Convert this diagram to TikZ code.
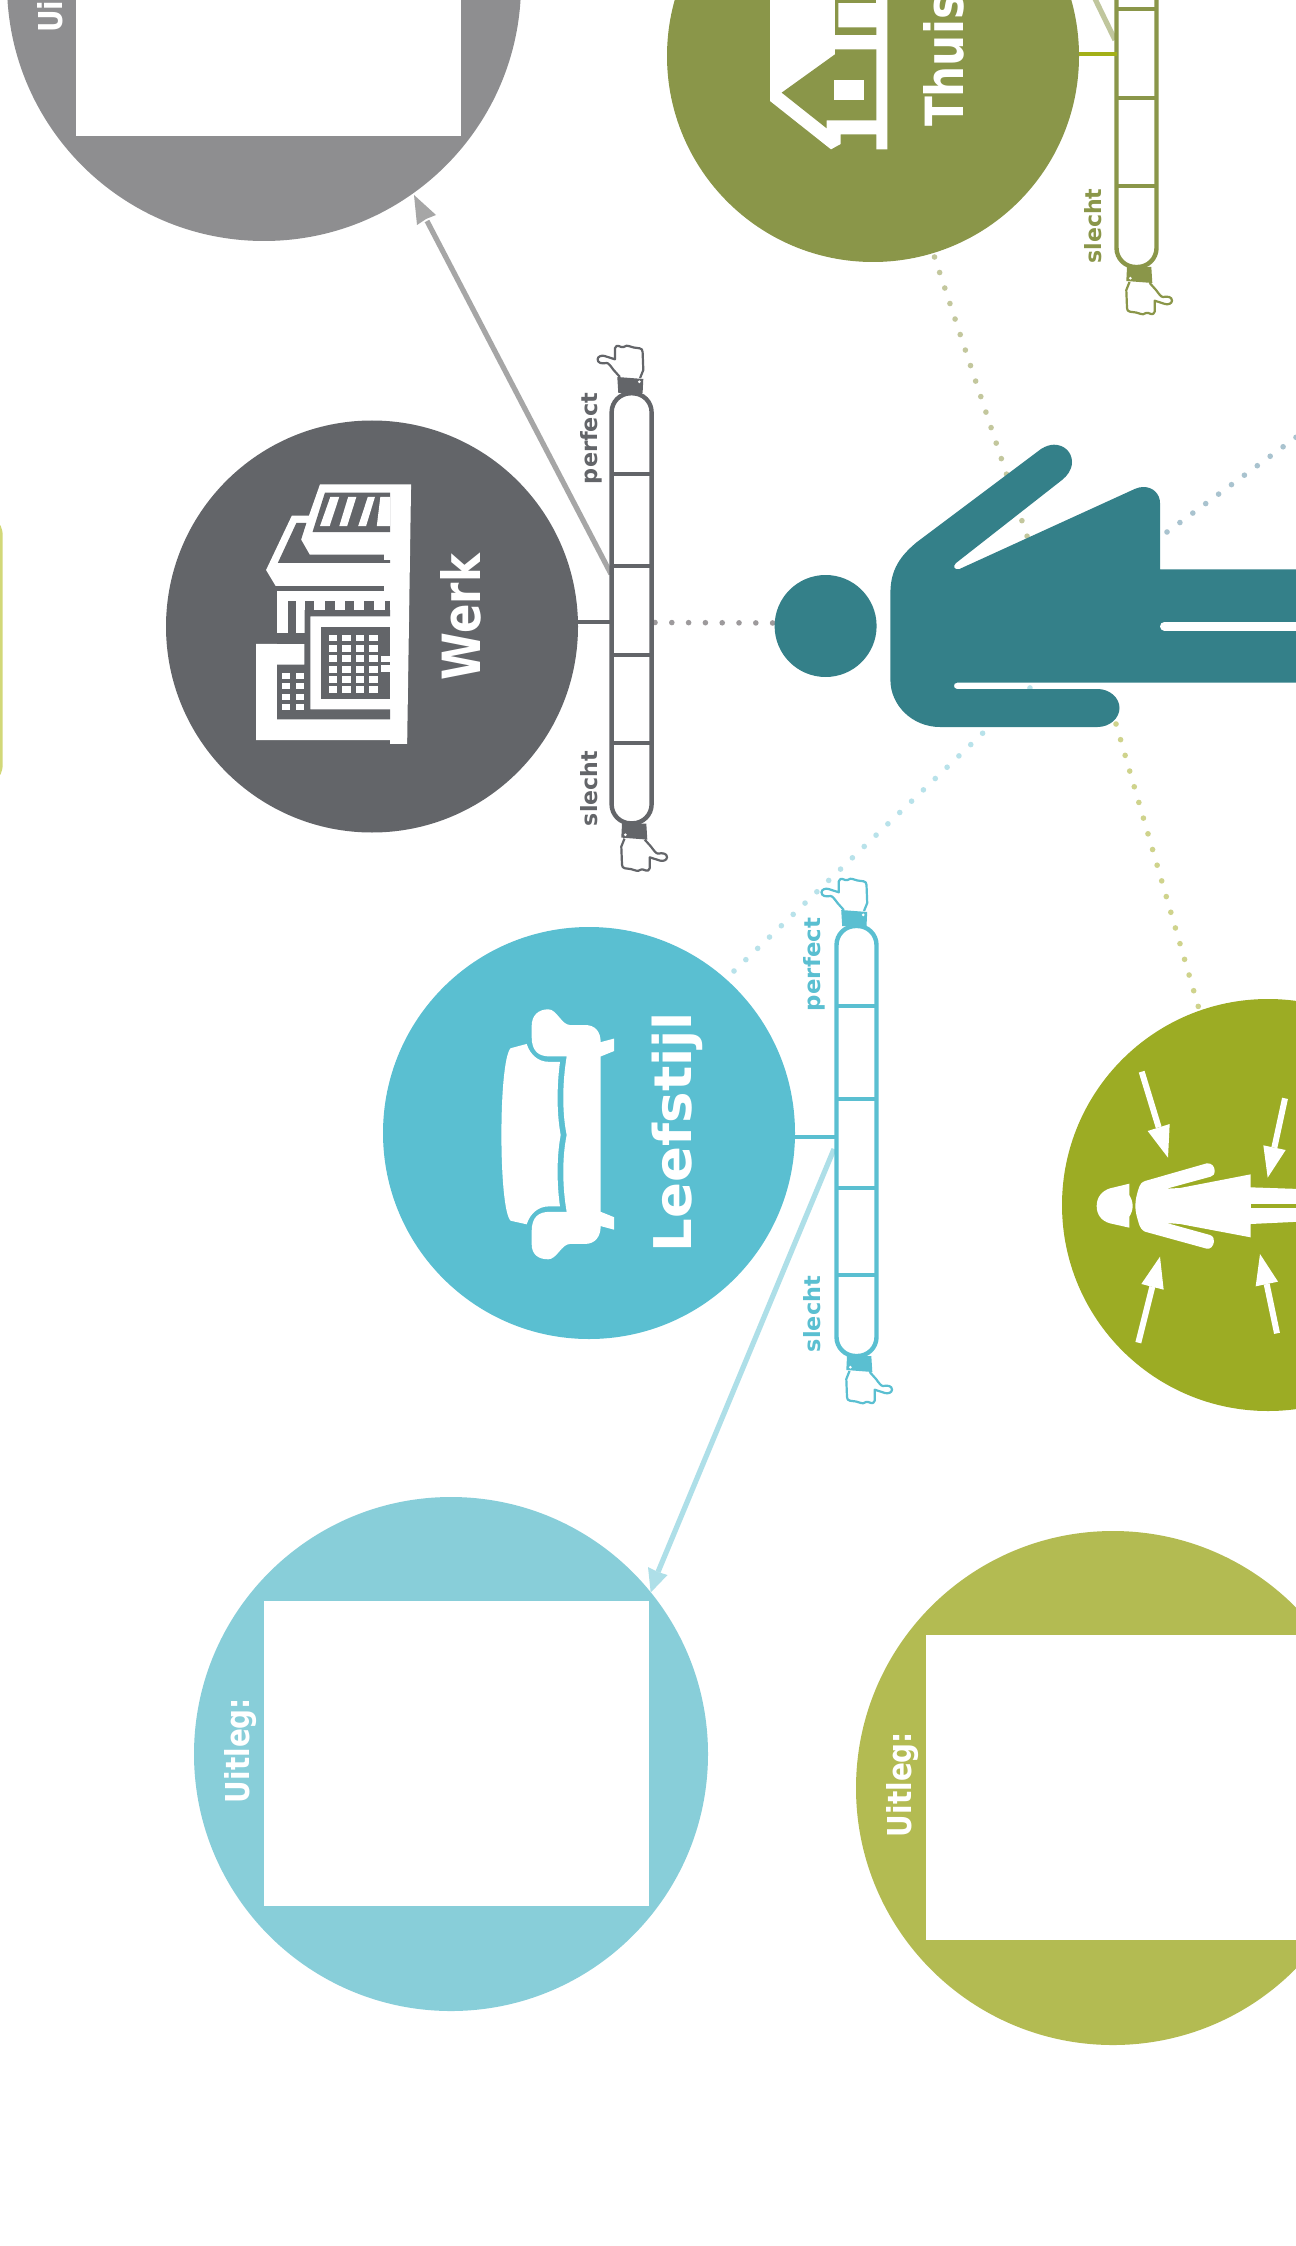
\documentclass[tikz,border=0pt]{standalone}
\usepackage{graphicx}
\usepackage{fontspec}
\newfontfamily\labf{DejaVu Sans Bold}
\definecolor{cWerk}{HTML}{636569}
\definecolor{cLeef}{HTML}{5ABFD1}
\definecolor{cThuis}{HTML}{8A9649}
\definecolor{cStress}{HTML}{9CAC24}
\definecolor{cGrey}{HTML}{8E8E90}
\definecolor{cTeal}{HTML}{88CED9}
\definecolor{cOlive}{HTML}{B3BB52}
\definecolor{cPerson}{HTML}{348089}
\definecolor{lGrey}{HTML}{A6A6A6}
\definecolor{lBlue}{HTML}{AEDFE8}
\definecolor{lOlive}{HTML}{C0C69D}
\definecolor{lLink}{HTML}{A3B018}
\definecolor{dGrey}{HTML}{9D9A9C}
\definecolor{dOlive}{HTML}{C3C79D}
\definecolor{dSlate}{HTML}{A9C3CF}
\definecolor{dBlue}{HTML}{B8E2EA}
\definecolor{dGreen}{HTML}{CFD38C}
\definecolor{cSliver}{HTML}{D2D878}
\tikzset{
  bigdisc/.style={circle,fill=#1,inner sep=0pt,outer sep=0pt,minimum size=257pt},
  meddisc/.style={circle,fill=#1,inner sep=0pt,outer sep=0pt,minimum size=206pt},
  gauge/.style={draw=#1,fill=white,line width=2.2pt,rounded corners=9.5pt,inner sep=0pt,outer sep=0pt,minimum width=20pt,minimum height=215pt},
  rung/.style={draw=#1,line width=2pt},
  link/.style={line width=2.1pt,draw=#1},
  leader/.style={line width=2.6pt,draw=#1},
  dots/.style={draw=#1,line width=2.8pt,line cap=round,dash pattern=on 0pt off 8.17pt},
  lab/.style={rotate=90,anchor=base west,inner sep=0pt,outer sep=0pt,text=#1},
}
\newcommand{\txt}[3]{\resizebox{#1}{#2}{\labf #3}}
% hand with cuff; origin at the end of the gauge, pointing up
\newcommand{\handicon}[1]{%
  \draw[fill=white,draw=#1,line width=1.1pt,line join=round]
    (-11.7,-16) -- (-18,-23) .. controls (-21,-27) and (-23,-30) .. (-25,-30)
    .. controls (-30,-29) and (-34,-30) .. (-34,-33.7)
    .. controls (-34,-36.5) and (-30,-38) .. (-27,-37) -- (-16.7,-33.7)
    -- (-16.7,-44.7) .. controls (-16.5,-47) and (-14,-47.5) .. (-13,-47)
    .. controls (-11,-46) and (-9,-45.5) .. (-8,-46)
    .. controls (-6,-47.5) and (-4,-47.5) .. (-3,-47)
    .. controls (-1,-45.5) and (0,-45.5) .. (2,-45.5)
    -- (8,-44.7) .. controls (10,-44.5) and (11,-43) .. (11,-41)
    -- (11.7,-23) -- (8.5,-15);
  \fill[#1] (-14.3,-16) -- (11.7,-14) -- (11,0) -- (-13.3,0) -- cycle;
  \fill[white] (7.7,-11.2) circle (1.5);
}
\begin{document}
\begin{tikzpicture}[x=0.5pt,y=-0.5pt]
\useasboundingbox (0,0) rectangle (1295,2246);
\fill[white] (0,0) rectangle (1295,2246);

% sliver on the left edge
\fill[cSliver] (-5,522) .. controls (0,522) and (2.7,528) .. (2.7,536) -- (2.7,764)
  .. controls (2.7,772) and (0,778) .. (-5,778) -- cycle;

% dotted lines to the person
\coordinate (dW) at (655,622.5);  \coordinate (pHead) at (778,623);
\coordinate (dT) at (934.5,257);  \coordinate (pT) at (1028,539);
\coordinate (dS) at (1167,532);   \coordinate (pS) at (1310,427);
\coordinate (dL) at (734,971);    \coordinate (pL) at (1032,686);
\coordinate (dG) at (1116,724);   \coordinate (pG) at (1199,1009);
\draw[dots=dGrey,dash pattern=on 0pt off 8.4pt] (dW) -- (pHead);
\draw[dots=dOlive] (dT) -- (pT);
\draw[dots=dSlate,dash pattern=on 0pt off 8pt] (dS) -- (pS);
\draw[dots=dBlue,dash pattern=on 0pt off 8.19pt] (dL) -- (pL);
\draw[dots=dGreen] (dG) -- (pG);

% large explanation discs
\node[bigdisc=cGrey] (uGrey) at (264,-16) {};
\node[bigdisc=cTeal] (uTeal) at (451,1754) {};
\node[bigdisc=cOlive] (uOlive) at (1113,1788) {};
\fill[white] (76,-170) rectangle (461,136);
\fill[white] (264,1601) rectangle (649,1906);
\fill[white] (926,1635) rectangle (1311,1940);
\node[lab=white] (tGrey) at (62,33) {\txt{52.5pt}{12.5pt}{Uitleg:}};
\node[lab=white] (tTeal) at (249,1803) {\txt{52.5pt}{12.5pt}{Uitleg:}};
\node[lab=white] (tOlive) at (911,1837) {\txt{52.5pt}{12.5pt}{Uitleg:}};

% medium discs
\node[meddisc=cWerk] (werk) at (372,626.5) {};
\node[meddisc=cLeef] (leef) at (589,1133) {};
\node[meddisc=cThuis] (thuis) at (873,56) {};
\node[meddisc=cStress] (stress) at (1268,1205) {};

% leaders from the gauges
\coordinate (gWl) at (611,574);  \coordinate (aWb) at (427,221);
\coordinate (gLl) at (834,1149); \coordinate (aLb) at (658,1572);
\coordinate (gTl) at (1115,40);  \coordinate (gTe) at (1080,-32);
\draw[leader=lGrey] (gWl) -- (aWb);
\draw[leader=lBlue] (gLl) -- (aLb);
\draw[leader=lOlive] (gTl) -- (gTe);
\fill[lGrey] (414,195) -- (436,215) -- (426,219) -- (417,225) -- cycle;
\fill[lBlue] (650.7,1592.5) -- (648,1567) -- (658,1572) -- (667.5,1575) -- cycle;

% gauges: Werk
\begin{scope}[shift={(631.6,393)}]\handicon{cWerk}\end{scope}
\begin{scope}[shift={(633,823.6)},rotate=180]\handicon{cWerk}\end{scope}
\node[gauge=cWerk] (barW) at (631.6,608.3) {};
\foreach \y in {474,566,655,742.5} \draw[rung=cWerk] (barW.west |- 0,\y) -- (barW.east |- 0,\y);
\coordinate (cW) at (600,622);
\draw[link=cWerk] (werk.east |- cW) -- (barW.west |- cW);
\node[lab=cWerk] (pW) at (597,484) {\txt{45.5pt}{8.5pt}{perfect}};
\node[lab=cWerk] (sW) at (597,826) {\txt{37.5pt}{8.5pt}{slecht}};

% gauges: Leefstijl
\begin{scope}[shift={(855.5,926)}]\handicon{cLeef}\end{scope}
\begin{scope}[shift={(858,1356)},rotate=180]\handicon{cLeef}\end{scope}
\node[gauge=cLeef] (barL) at (856.5,1141) {};
\foreach \y in {1006,1098.6,1187.5,1275} \draw[rung=cLeef] (barL.west |- 0,\y) -- (barL.east |- 0,\y);
\coordinate (cL) at (810,1137);
\draw[link=cLeef] (leef.east |- cL) -- (barL.west |- cL);
\node[lab=cLeef] (pL2) at (820,1011) {\txt{46.5pt}{8.5pt}{perfect}};
\node[lab=cLeef] (sL) at (820,1352) {\txt{38pt}{8.5pt}{slecht}};

% gauges: Thuis
\begin{scope}[shift={(1138,267)},rotate=180]\handicon{cThuis}\end{scope}
\node[gauge=cThuis] (barT) at (1136.5,52) {};
\foreach \y in {9,98,186} \draw[rung=cThuis] (barT.west |- 0,\y) -- (barT.east |- 0,\y);
\coordinate (cT) at (1095,54);
\draw[link=lLink] (thuis.east |- cT) -- (barT.west |- cT);
\node[lab=cThuis] (sT) at (1101,263.5) {\txt{37.5pt}{8.5pt}{slecht}};

% disc titles
\node[lab=white] (tWerk) at (480,680) {\txt{63pt}{20pt}{Werk}};
\node[lab=white] (tLeef) at (691,1252) {\txt{120pt}{19.75pt}{Leefstijl}};
\node[lab=white] (tThuis) at (963,127) {\txt{66.5pt}{20pt}{Thuis}};

% person
\fill[cPerson] (825.6,626) circle (51);
\fill[cPerson] (917,542) -- (1041,449) .. controls (1046,446) and (1050,444.7) .. (1054,444.7)
  .. controls (1064,444.7) and (1072,452) .. (1072,462) .. controls (1072,470) and (1067,476) .. (1062,480)
  -- (956,563) .. controls (952.5,566) and (954,570.5) .. (959.5,569)
  -- (1134.7,489) .. controls (1138,487.5) and (1141,487) .. (1143.6,487)
  .. controls (1153,487) and (1160,494) .. (1160,503) -- (1160,569.3) -- (1310,569.3) -- (1310,682.7)
  -- (957,682.7) .. controls (953,682.7) and (953,689) .. (957,689) -- (1097.5,689)
  .. controls (1110,689) and (1119.5,698) .. (1119.5,708) .. controls (1119.5,718) and (1110,727) .. (1097.5,727)
  -- (940,727) .. controls (912,727) and (890.4,705) .. (890.4,680) -- (890.4,593)
  .. controls (890.4,570) and (900,556) .. (917,542) -- cycle;
\draw[white,line width=4.5pt,line cap=round] (1164.5,626.2) -- (1320,626.2);

% icon: office building
\begin{scope}[shift={(150,320)},scale=0.35714]
\fill[white] (476,460) -- (731,460) -- (720,1187) -- (672,1187) -- (672,1176) -- (297,1176) -- (297,907) -- (356,907)
  -- (356,745) -- (352,745) -- (325,700) -- (397,548) -- (445,548) -- cycle;
\fill[cWerk] (490,483) -- (672,483) -- (672,594) -- (455,594) -- cycle;
\fill[white] (505,495) -- (530,495) -- (503,577) -- (476,577) -- cycle;
\fill[white] (555,495) -- (578,495) -- (552,577) -- (530,577) -- cycle;
\fill[white] (610,495) -- (630,495) -- (605,577) -- (583,577) -- cycle;
\fill[white] (645,495) -- (672,495) -- (672,577) -- (635,577) -- cycle;
\fill[cWerk] (410,568) -- (438,568) -- (423,615) -- (447,657) -- (655,657) -- (655,672) -- (672,672) -- (672,680) -- (358,680) -- cycle;
\fill[cWerk] (350,745) rectangle (656,758);
\fill[cWerk] (385,787) rectangle (408,877);
\foreach \a/\b in {433/460,490/517,545/572,600/628,657/672} \fill[cWerk] (\a,787) rectangle (\b,812);
\fill[cWerk] (356,877) -- (433,877) -- (433,812) -- (672,812) -- (672,830) -- (449,830) -- (449,1090) -- (672,1090) -- (672,1118)
  -- (356,1118) -- (356,965) -- (432,965) -- (432,907) -- (356,907) -- cycle;
\fill[cWerk] (479,860) rectangle (672,1062);
\foreach \yy/\yb in {882/900,910/930,938/958,968/987,997/1016,1026/1043}
  \foreach \xx/\xb in {500/524,538/562,576/600,614/638} \fill[white] (\xx,\yy) rectangle (\xb,\yb);
\fill[white] (648,940) rectangle (672,958);
\fill[white] (648,965) rectangle (672,985);
\foreach \yy/\yb in {988/1005,1017/1034,1046/1063,1074/1092}
  \foreach \xx/\xb in {370/393,408/432} \fill[white] (\xx,\yy) rectangle (\xb,\yb);
\end{scope}

% icon: house
\begin{scope}[shift={(730,0)},scale=0.33333]
\fill[white] (120,-10) -- (120,303) -- (303,448) -- (332,432) -- (332,403) -- (439,403) -- (439,448) -- (472,448) -- (472,-10) -- cycle;
\fill[cThuis] (155,278) -- (315,163) -- (315,148) -- (439,148) -- (439,361) -- (290,361) -- (290,385) -- cycle;
\fill[white] (313,240) rectangle (401,300);
\fill[cThuis] (315,-10) -- (325,-10) -- (325,82) -- (439,82) -- (439,105) -- (315,105) -- cycle;
\fill[cThuis] (325,-10) rectangle (439,10);
\end{scope}

% icon: sofa
\begin{scope}[shift={(470,860)},xscale=0.33333,yscale=0.35714]
\fill[white] (122,527) -- (170,515) .. controls (180,545) and (205,565) .. (235,565) -- (270,565)
  .. controls (262,620) and (258,700) .. (272,770) .. controls (258,840) and (262,920) .. (270,970)
  -- (235,970) .. controls (205,970) and (180,990) .. (170,1020) -- (122,1010)
  .. controls (85,980) and (85,560) .. (122,527) -- cycle;
\fill[white] (290,550) .. controls (278,620) and (275,700) .. (290,770) .. controls (275,840) and (278,920) .. (290,985)
  -- (240,985) .. controls (205,985) and (185,1000) .. (185,1040) -- (185,1075)
  .. controls (185,1105) and (205,1118) .. (235,1118) .. controls (260,1118) and (275,1075) .. (300,1075)
  -- (345,1075) .. controls (375,1075) and (392,1055) .. (392,1025) -- (432,1035) -- (432,1000) -- (392,985)
  -- (392,550) -- (432,535) -- (432,500) -- (392,510)
  .. controls (392,480) and (375,462) .. (345,462) -- (300,462)
  .. controls (275,462) and (260,418) .. (235,418) .. controls (205,418) and (185,435) .. (185,465) -- (185,495)
  .. controls (185,535) and (205,550) .. (240,550) -- cycle;
\end{scope}

% icon: figure under pressure
\begin{scope}[shift={(1040,990)},scale=0.33333]
\fill[white] (268,581) -- (210,595) .. controls (185,603) and (170,622) .. (170,648) .. controls (170,675) and (185,693) .. (210,700)
  -- (268,713) -- (268,680) .. controls (274,670) and (278,660) .. (278,648) .. controls (278,636) and (274,626) .. (268,615) -- cycle;
\fill[white] (315,573) -- (500,520) .. controls (515,518) and (524,530) .. (524,542) .. controls (524,552) and (520,558) .. (512,560)
  -- (380,596) -- (420,594) -- (632,553) -- (632,592) -- (780,597) -- (780,695) -- (632,702) -- (632,742)
  -- (420,702) -- (380,699) -- (510,735) .. controls (520,738) and (523,748) .. (522,755) .. controls (520,770) and (510,778) .. (500,776)
  -- (315,725) .. controls (305,720) and (300,712) .. (298,705) .. controls (290,680) and (286,665) .. (286,648)
  .. controls (286,630) and (290,612) .. (298,590) .. controls (300,582) and (305,577) .. (315,573) -- cycle;
\fill[cStress] (632,642) rectangle (780,654);
\foreach \xa/\ya/\xb/\yb/\xt/\yt/\xc/\yc/\xd/\yd in
 {305/245/356/412/384/503/323/423/389/402,
  735/325/703/473/683/563/670/466/737/480,
  295/1058/337/890/360/800/304/882/371/899,
  711/1030/680/882/660/792/647/889/714/875}{
  \draw[white,line width=3pt] (\xa,\ya) -- (\xb,\yb);
  \fill[white] (\xt,\yt) -- (\xc,\yc) -- (\xd,\yd) -- cycle;
}
\end{scope}
\end{tikzpicture}
\end{document}
